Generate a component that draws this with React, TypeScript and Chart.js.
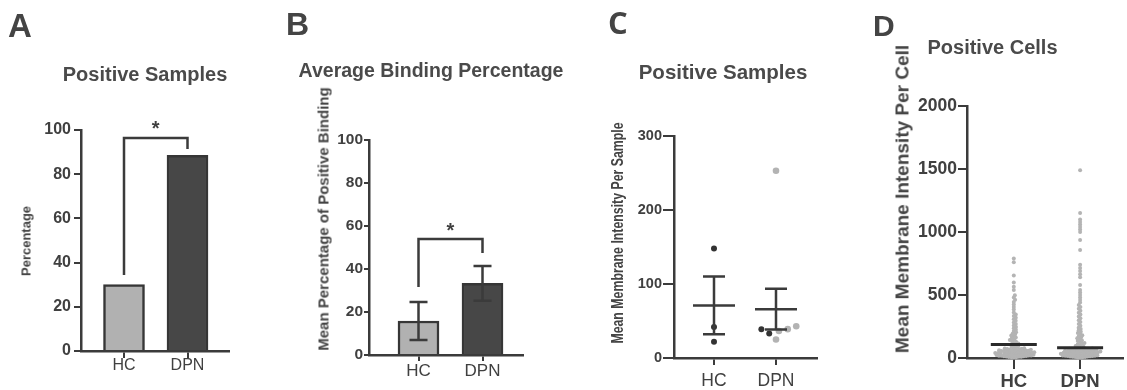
import React, { useEffect, useRef } from 'react';
import { Chart, registerables } from 'chart.js';

Chart.register(...registerables);

// ---------------- data ----------------
const groups = ['HC', 'DPN'];

// A: Positive Samples (percentage)
const positivePct = [30, 88.5];
const pctTicks = [0, 20, 40, 60, 80, 100];
const bracketA = [34.4, 96.4, 91.4]; // left leg end, top, right leg end
const starA = 103.2;

// B: Average Binding Percentage
const bindingMean = [15.8, 33.3];
const bindingErr = [8.8, 8.1];
const bracketB = [31.6, 54, 47.4];
const starB = 60.5;

// C: Positive Samples (mean membrane intensity per sample)
const hcSampleDark = [148, 42, 22];
const dpnSampleDark = [39, 33];
const dpnSampleLight = [253, 43, 39, 36.5, 25];
const sampleMean = [71, 66];
const sampleSem = [39, 27.5];
const sampleTicks = [0, 100, 200, 300];

// D: Positive Cells (mean membrane intensity per cell)
const cellHC = [
  3, 5, 6, 8, 9, 10, 12, 13, 14, 15, 17, 18, 19, 20, 22, 23, 24, 25, 26, 28, 29, 30, 31, 33, 34, 35, 36, 38,
  39, 40, 41, 42, 44, 45, 46, 48, 49, 50, 52, 53, 54, 55, 57, 58, 60, 61, 63, 64, 66, 68, 70, 72, 74, 76, 78, 80,
  85, 90, 95, 100, 105, 110, 115, 120, 128, 135, 142, 148, 155, 162, 170, 178, 186, 195, 204, 214, 225, 236, 246,
  258, 270, 282, 295, 308, 320, 333, 345, 362, 385, 405, 425, 445, 462, 480, 498, 540, 565, 600, 655, 760, 790,
];
const cellDPN = [
  2, 4, 5, 7, 8, 9, 11, 12, 13, 15, 16, 17, 18, 20, 21, 22, 23, 25, 26, 27, 28, 30, 31, 32, 33, 35, 36, 37,
  38, 40, 41, 42, 43, 45, 46, 47, 48, 50, 51, 52, 53, 55, 56, 57, 58, 60, 61, 62, 64, 65, 66, 68, 70, 71, 73, 75,
  80, 85, 90, 96, 102, 108, 114, 120, 127, 134, 141, 148, 156, 164, 172, 181, 190, 199, 209, 219, 230, 241,
  255, 270, 285, 300, 315, 330, 345, 360, 375, 390, 405, 420, 440, 460, 480, 500, 520, 540,
  580, 640, 665, 690, 715, 740, 857, 937, 1000, 1020, 1040, 1060, 1080, 1100, 1150, 1490,
];
const cellMean = [108, 82];
const cellTicks = [0, 500, 1000, 1500, 2000];

// ---------------- styling / layout ----------------
const FONT = '"Liberation Sans", Arial, Helvetica, sans-serif';
const AX = '#3b3b3b';
const TXT = '#404040';

interface Geo { box: number[]; area: number[]; centers: number[] }
interface AxisStyle { yFont: number; yTickLen: number; yPad: number; xFont: number; xBold: boolean; xTickLen: number; xPad: number }

const geoA: Geo = { box: [0, 0, 280, 390], area: [81, 130, 229, 351], centers: [124, 187.5] };
const geoB: Geo = { box: [280, 0, 290, 390], area: [369, 140, 523, 355], centers: [418.5, 482.5] };
const geoC: Geo = { box: [570, 0, 280, 390], area: [674, 136, 817, 358], centers: [714, 776] };
const geoD: Geo = { box: [850, 0, 277, 390], area: [967, 106, 1127, 358], centers: [1015, 1083] };
const geos = [geoA, geoB, geoC, geoD];

const styleA: AxisStyle = { yFont: 16, yTickLen: 7, yPad: 3, xFont: 16, xBold: false, xTickLen: 7, xPad: 0 };
const styleB: AxisStyle = { yFont: 15.5, yTickLen: 5, yPad: 1, xFont: 17, xBold: false, xTickLen: 6, xPad: 2 };
const styleC: AxisStyle = { yFont: 14.5, yTickLen: 11, yPad: 1, xFont: 17.5, xBold: false, xTickLen: 7, xPad: 7 };
const styleD: AxisStyle = { yFont: 17.5, yTickLen: 9, yPad: 1, xFont: 18.5, xBold: true, xTickLen: 11, xPad: 4 };

function scalesFor(geo: Geo, yTicks: number[], st: AxisStyle): any {
  const [bl, bt, , bh] = geo.box;
  const [al, , ar, ab] = geo.area;
  const [c0, c1] = geo.centers;
  const unit = c1 - c0;
  const xmin = (al - c0) / unit;
  const xmax = 1 + (ar - c1) / unit;
  return {
    x: {
      type: 'linear',
      min: xmin,
      max: xmax,
      offset: false,
      afterFit: (s: any) => { s.height = bt + bh - ab; },
      afterBuildTicks: (s: any) => { s.ticks = groups.map((_, i) => ({ value: i })); },
      ticks: {
        callback: (v: any) => groups[Math.round(Number(v))] ?? '',
        color: TXT,
        padding: st.xPad,
        maxRotation: 0,
        autoSkip: false,
        font: { family: FONT, size: st.xFont, weight: st.xBold ? 'bold' : 'normal', lineHeight: 1 },
      },
      grid: { display: true, drawOnChartArea: false, drawTicks: true, tickLength: st.xTickLen, color: AX, lineWidth: 2, offset: false },
      border: { display: true, color: AX, width: 2.5 },
    },
    y: {
      type: 'linear',
      min: yTicks[0],
      max: yTicks[yTicks.length - 1],
      afterFit: (s: any) => { s.width = al - bl; },
      afterBuildTicks: (s: any) => { s.ticks = yTicks.map((v) => ({ value: v })); },
      ticks: {
        callback: (v: any) => String(v),
        color: TXT,
        padding: st.yPad,
        font: { family: FONT, size: st.yFont, weight: 'bold', lineHeight: 1 },
      },
      grid: { display: true, drawOnChartArea: false, drawTicks: true, tickLength: st.yTickLen, color: AX, lineWidth: 2 },
      border: { display: true, color: AX, width: 2.5 },
    },
  };
}

function optionsFor(geo: Geo, yTicks: number[], st: AxisStyle): any {
  const [bl, bt, bw] = geo.box;
  const [, at, ar] = geo.area;
  return {
    responsive: false,
    maintainAspectRatio: false,
    animation: false,
    devicePixelRatio: 1,
    layout: { padding: { left: 0, top: at - bt, right: bl + bw - ar, bottom: 0 } },
    plugins: { legend: { display: false }, tooltip: { enabled: false }, title: { display: false } },
    scales: scalesFor(geo, yTicks, st),
  };
}

function overlay(draw: (chart: any, ctx: CanvasRenderingContext2D) => void) {
  return {
    id: 'overlay',
    afterDatasetsDraw(chart: any) {
      const ctx = chart.ctx as CanvasRenderingContext2D;
      ctx.save();
      draw(chart, ctx);
      ctx.restore();
    },
  };
}

function drawBracket(chart: any, ctx: CanvasRenderingContext2D, br: number[], star: number) {
  const xs = chart.scales.x, ys = chart.scales.y;
  const x0 = xs.getPixelForValue(0), x1 = xs.getPixelForValue(1);
  ctx.strokeStyle = AX;
  ctx.lineWidth = 2.5;
  ctx.lineJoin = 'miter';
  ctx.beginPath();
  ctx.moveTo(x0, ys.getPixelForValue(br[0]));
  ctx.lineTo(x0, ys.getPixelForValue(br[1]));
  ctx.lineTo(x1, ys.getPixelForValue(br[1]));
  ctx.lineTo(x1, ys.getPixelForValue(br[2]));
  ctx.stroke();
  ctx.fillStyle = TXT;
  ctx.font = `bold 20px ${FONT}`;
  ctx.textAlign = 'center';
  ctx.textBaseline = 'alphabetic';
  ctx.fillText('*', (x0 + x1) / 2, ys.getPixelForValue(star) + 0.58 * 20);
}

function drawMeanErr(chart: any, ctx: CanvasRenderingContext2D, means: number[], errs: number[] | null, meanHalf: number, capHalf: number, lw: number, color: string) {
  const xs = chart.scales.x, ys = chart.scales.y;
  ctx.strokeStyle = color;
  ctx.lineWidth = lw;
  means.forEach((m, i) => {
    const x = xs.getPixelForValue(i);
    const ym = ys.getPixelForValue(m);
    ctx.beginPath();
    if (meanHalf > 0) {
      ctx.moveTo(x - meanHalf, ym);
      ctx.lineTo(x + meanHalf, ym);
    }
    if (errs) {
      const yt = ys.getPixelForValue(m + errs[i]);
      const yb = ys.getPixelForValue(m - errs[i]);
      ctx.moveTo(x, yt);
      ctx.lineTo(x, yb);
      ctx.moveTo(x - capHalf, yt);
      ctx.lineTo(x + capHalf, yt);
      ctx.moveTo(x - capHalf, yb);
      ctx.lineTo(x + capHalf, yb);
    }
    ctx.stroke();
  });
}

// beeswarm layout in pixel space
function swarm(pys: number[], d: number): number[] {
  const order = pys.map((_, i) => i).sort((a, b) => pys[b] - pys[a]);
  const placed: { x: number; y: number }[] = [];
  const out = new Array(pys.length).fill(0);
  const d2 = d * d;
  order.forEach((i, k) => {
    const y = pys[i];
    const near = placed.filter((p) => Math.abs(p.y - y) < d);
    const cands = [0];
    near.forEach((p) => {
      const dx = Math.sqrt(Math.max(0, d2 - (p.y - y) ** 2));
      cands.push(p.x + dx, p.x - dx);
    });
    const sign = k % 2 === 0 ? 1 : -1;
    cands.sort((a, b) => Math.abs(a) - Math.abs(b) || (b - a) * sign);
    let x = cands[cands.length - 1];
    for (const c of cands) {
      if (near.every((p) => (p.x - c) ** 2 + (p.y - y) ** 2 >= d2 - 1e-6)) { x = c; break; }
    }
    placed.push({ x, y });
    out[i] = x;
  });
  return out;
}

function applySwarm(chart: any, d: number) {
  const xs = chart.scales.x, ys = chart.scales.y;
  const unit = xs.getPixelForValue(1) - xs.getPixelForValue(0);
  const byGroup: Record<number, { ds: number; i: number; v: number }[]> = {};
  chart.data.datasets.forEach((ds: any, di: number) => {
    ds.data.forEach((p: any, i: number) => {
      const g = Math.round(p.x);
      (byGroup[g] = byGroup[g] || []).push({ ds: di, i, v: p.y });
    });
  });
  Object.keys(byGroup).forEach((gk) => {
    const g = Number(gk);
    const pts = byGroup[g];
    const offs = swarm(pts.map((p) => ys.getPixelForValue(p.v)), d);
    pts.forEach((p, k) => {
      chart.data.datasets[p.ds].data[p.i] = { x: g + offs[k] / unit, y: p.v };
    });
  });
  chart.update('none');
}

// ---------------- chart builders ----------------
function buildA(canvas: HTMLCanvasElement) {
  return new Chart(canvas, {
    type: 'bar',
    data: {
      datasets: [{
        data: positivePct.map((v, i) => ({ x: i, y: v })),
        backgroundColor: ['#b1b1b1', '#474747'],
        borderColor: '#363636',
        borderWidth: 2.5,
        barThickness: 41,
        borderSkipped: 'start',
      } as any],
    },
    options: optionsFor(geoA, pctTicks, styleA),
    plugins: [overlay((c, ctx) => drawBracket(c, ctx, bracketA, starA))],
  });
}

function buildB(canvas: HTMLCanvasElement) {
  return new Chart(canvas, {
    type: 'bar',
    data: {
      datasets: [{
        data: bindingMean.map((v, i) => ({ x: i, y: v })),
        backgroundColor: ['#b1b1b1', '#474747'],
        borderColor: '#363636',
        borderWidth: 2.5,
        barThickness: 41,
        borderSkipped: 'start',
      } as any],
    },
    options: optionsFor(geoB, pctTicks, styleB),
    plugins: [overlay((c, ctx) => {
      drawMeanErr(c, ctx, bindingMean, bindingErr, 0, 9, 2.5, AX);
      drawBracket(c, ctx, bracketB, starB);
    })],
  });
}

function buildC(canvas: HTMLCanvasElement) {
  const chart = new Chart(canvas, {
    type: 'scatter',
    data: {
      datasets: [
        {
          data: dpnSampleLight.map((v) => ({ x: 1, y: v })),
          pointRadius: 3.3,
          pointBackgroundColor: '#b3b3b3',
          pointBorderWidth: 0,
          clip: false,
        } as any,
        {
          data: [
            ...hcSampleDark.map((v) => ({ x: 0, y: v })),
            ...dpnSampleDark.map((v) => ({ x: 1, y: v })),
          ],
          pointRadius: 3,
          pointBackgroundColor: '#333333',
          pointBorderWidth: 0,
          clip: false,
        } as any,
      ],
    },
    options: optionsFor(geoC, sampleTicks, styleC),
    plugins: [overlay((c, ctx) => drawMeanErr(c, ctx, sampleMean, sampleSem, 21, 11, 2.5, AX))],
  });
  applySwarm(chart, 9);
  return chart;
}

function buildD(canvas: HTMLCanvasElement) {
  const chart = new Chart(canvas, {
    type: 'scatter',
    data: {
      datasets: [{
        data: [
          ...cellHC.map((v) => ({ x: 0, y: v })),
          ...cellDPN.map((v) => ({ x: 1, y: v })),
        ],
        pointRadius: 2,
        pointBackgroundColor: '#b4b4b4',
        pointBorderWidth: 0,
        clip: false,
      } as any],
    },
    options: optionsFor(geoD, cellTicks, styleD),
    plugins: [overlay((c, ctx) => drawMeanErr(c, ctx, cellMean, null, 23, 0, 3, '#2a2a2a'))],
  });
  applySwarm(chart, 2.5);
  return chart;
}

// ---------------- text helpers ----------------
function Txt(p: { x: number; y: number; size: number; bold?: boolean; family?: string; center?: boolean; color?: string; children: React.ReactNode }) {
  return (
    <div
      style={{
        position: 'absolute',
        left: p.x,
        top: p.y,
        fontSize: p.size,
        lineHeight: 1,
        fontWeight: p.bold === false ? 400 : 700,
        fontFamily: p.family || FONT,
        color: p.color || '#444',
        whiteSpace: 'nowrap',
        transform: p.center ? 'translateX(-50%)' : undefined,
      }}
    >
      {p.children}
    </div>
  );
}

function VTxt(p: { cx: number; cy: number; size: number; sx?: number; children: React.ReactNode }) {
  return (
    <div
      style={{
        position: 'absolute',
        left: p.cx,
        top: p.cy,
        fontSize: p.size,
        lineHeight: 1,
        fontWeight: 700,
        fontFamily: FONT,
        color: '#444',
        whiteSpace: 'nowrap',
        transform: `translate(-50%, -50%) rotate(-90deg)${p.sx ? ` scaleX(${p.sx})` : ''}`,
      }}
    >
      {p.children}
    </div>
  );
}

export default function App() {
  const r0 = useRef<HTMLCanvasElement>(null);
  const r1 = useRef<HTMLCanvasElement>(null);
  const r2 = useRef<HTMLCanvasElement>(null);
  const r3 = useRef<HTMLCanvasElement>(null);
  const refs = [r0, r1, r2, r3];

  useEffect(() => {
    const charts = [
      buildA(r0.current!),
      buildB(r1.current!),
      buildC(r2.current!),
      buildD(r3.current!),
    ];
    return () => charts.forEach((c) => c.destroy());
  }, []);

  return (
    <div style={{ position: 'fixed', left: 0, top: 0, width: 1127, height: 390, background: '#fff', overflow: 'hidden' }}>
      {geos.map((g, i) => (
        <canvas
          key={i}
          ref={refs[i]}
          width={g.box[2]}
          height={g.box[3]}
          style={{ position: 'absolute', left: g.box[0], top: g.box[1], width: g.box[2], height: g.box[3] }}
        />
      ))}
      <Txt x={8} y={8.7} size={33}>A</Txt>
      <Txt x={286} y={7.8} size={32}>B</Txt>
      <Txt x={608} y={6.6} size={31} family={'"Open Sans", sans-serif'}>C</Txt>
      <Txt x={873} y={11} size={30}>D</Txt>

      <Txt x={145} y={64.4} size={20} center color="#4a4a4a">Positive Samples</Txt>
      <Txt x={431} y={60.5} size={19.5} center color="#4a4a4a">Average Binding Percentage</Txt>
      <Txt x={723} y={62.3} size={20.5} center color="#4a4a4a">Positive Samples</Txt>
      <Txt x={992.5} y={37.4} size={20} center color="#4a4a4a">Positive Cells</Txt>

      <VTxt cx={26} cy={241} size={13}>Percentage</VTxt>
      <VTxt cx={323} cy={219} size={15}>Mean Percentage of Positive Binding</VTxt>
      <VTxt cx={616.5} cy={232.5} size={17} sx={0.725}>Mean Membrane Intensity Per Sample</VTxt>
      <VTxt cx={901.5} cy={198.5} size={19}>Mean Membrane Intensity Per Cell</VTxt>
    </div>
  );
}
